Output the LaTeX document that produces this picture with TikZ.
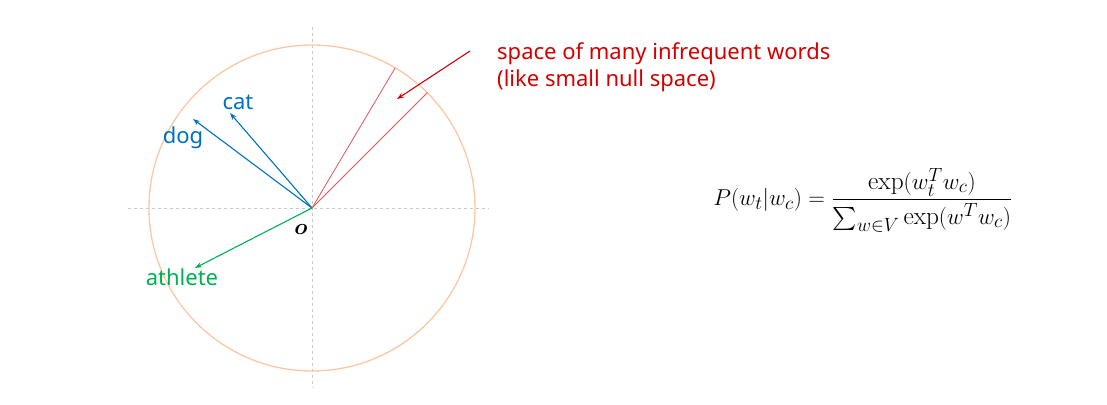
\documentclass[tikz,border=0pt]{standalone}
\usepackage{fontspec}
\usepackage{amsmath}
\newfontfamily\labelfont{Noto Sans}
\usetikzlibrary{arrows.meta}
\definecolor{vecblue}{RGB}{0,112,192}
\definecolor{vecgreen}{RGB}{0,176,80}
\definecolor{nullred}{RGB}{226,86,86}
\definecolor{notered}{RGB}{210,0,0}
\definecolor{ballpeach}{RGB}{250,200,165}
\definecolor{axisgray}{RGB}{200,200,200}

\begin{document}
\begin{tikzpicture}[
    x=1pt, y=1pt,
 wordlabel/.style = {
        font=\labelfont\fontsize{22}{27}\selectfont, inner sep=0pt},
     vector/.style = {line width=1.1pt, -{Stealth[length=7pt,width=5pt]}},
       axis/.style = {axisgray, dashed, line width=0.6pt, dash pattern=on 3pt off 3pt},
                    ]
\useasboundingbox (-312,-196) rectangle (795,208);
% the axes and the unit circle
\coordinate (o) at (0,0);
\draw[axis] (-184,0) coordinate (xl) -- (177,0) coordinate (xr);
\draw[axis] (0,181) coordinate (yt) -- (0,-180) coordinate (yb);
\draw[ballpeach, line width=1.3pt] (o) circle (163);
% the word vectors
\coordinate (dogtip) at (-119,89);
\coordinate (cattip) at (-82,95);
\coordinate (athtip) at (-117,-60);
\draw[vector, vecblue]  (o) -- (dogtip);
\draw[vector, vecblue]  (o) -- (cattip);
\draw[vector, vecgreen] (o) -- (athtip);
\node (dog) [wordlabel, vecblue]  at (-129,70)  {dog};
\node (cat) [wordlabel, vecblue]  at (-74,106)  {cat};
\node (ath) [wordlabel, vecgreen] at (-130,-69) {athlete};
\node (olab) [scale=1.3, transform shape] at (-11,-22)
        {\fontsize{17}{20}\selectfont$\boldsymbol{o}$};
% the thin cone of rare words
\draw[nullred, line width=0.8pt] (o) -- (59.3:163) coordinate (n1);
\draw[nullred, line width=0.8pt] (o) -- (45:163) coordinate (n2);
\node (note) [wordlabel, notered, align=left, anchor=west] at (185,141)
        {space of many infrequent words\\
         (like small null space)};
\coordinate (notetail) at (158,157);
\coordinate (conetip) at (85,109);
\draw[vector, notered] (notetail) -- (conetip);
% the softmax
\node (softmax) [scale=1.33, transform shape] at (551,8) {\fontsize{19}{23}\selectfont
        $P(w_t|w_c)=\dfrac{\exp(w_t^T w_c)}{\textstyle\sum_{w\in V}\exp(w^T w_c)}$};
\end{tikzpicture}
\end{document}
